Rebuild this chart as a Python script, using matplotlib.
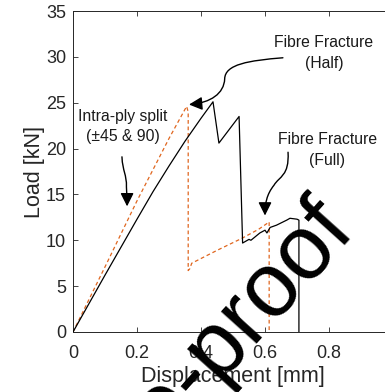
import matplotlib
matplotlib.use("Agg")
import matplotlib.pyplot as plt
from matplotlib.patches import FancyArrowPatch
from matplotlib.path import Path

plt.rcParams['font.family'] = ['Liberation Sans', 'DejaVu Sans']

# ---- data ----
black_x = [0, 0.10, 0.20, 0.25, 0.30, 0.35, 0.40, 0.4375, 0.456, 0.519, 0.530,
           0.550, 0.556, 0.584, 0.600, 0.606, 0.616, 0.636, 0.668, 0.678, 0.700, 0.706, 0.706]
black_y = [0, 6.2, 12.3, 15.3, 18.1, 20.8, 23.3, 25.1, 20.6, 23.5, 9.7,
           10.1, 10.0, 10.8, 11.1, 10.8, 11.4, 11.65, 12.2, 12.4, 12.3, 12.2, 0]

orange_x = [0, 0.10, 0.20, 0.30, 0.355, 0.360, 0.360, 0.365, 0.371, 0.45, 0.527, 0.58, 0.605, 0.613, 0.613]
orange_y = [0, 7.1, 14.3, 21.1, 24.6, 24.0, 6.7, 6.9, 7.5, 8.9, 10.2, 11.2, 11.8, 12.0, 0]

x_ticks = [0, 0.2, 0.4, 0.6, 0.8]
x_tick_labels = ['0', '0.2', '0.4', '0.6', '0.8']
y_ticks = [0, 5, 10, 15, 20, 25, 30, 35]
x_label = "Displacement [mm]"
y_label = "Load [kN]"

W, H = 385, 392
fig = plt.figure(figsize=(W / 100, H / 100), dpi=100)
ax = fig.add_axes([73 / W, 1 - 332 / H, 320 / W, 321 / H])

ax.plot(black_x, black_y, color='black', lw=0.9, zorder=3)
ax.plot(orange_x, orange_y, color='#E0661F', lw=0.9, ls=(0, (3, 2.2)), zorder=2)

ax.set_xlim(0, 1.0)
ax.set_ylim(0, 35)
ax.set_xticks(x_ticks)
ax.set_xticklabels(x_tick_labels)
ax.set_yticks(y_ticks)
tc = '#262626'
ax.tick_params(direction='in', length=3.5, width=0.6, top=True, right=True,
               labelsize=13, colors=tc, pad=5)
ax.tick_params(axis='x', pad=9)
for s in ax.spines.values():
    s.set_color(tc)
    s.set_linewidth(0.7)
ax.set_xlabel(x_label, fontsize=15.5, color=tc, labelpad=3)
ax.set_ylabel(y_label, fontsize=15.5, color=tc, labelpad=1)

# ---- annotations ----
afs = 11.3
tcol = '#1a1a1a'
ax.text(0.155, 22.4, "Intra-ply split\n(±45 & 90)", ha='center', va='center',
        fontsize=afs, color=tcol, linespacing=1.4)
ax.text(0.784, 30.4, "Fibre Fracture\n(Half)", ha='center', va='center',
        fontsize=afs, color=tcol, linespacing=1.5)
ax.text(0.795, 19.85, "Fibre Fracture\n(Full)", ha='center', va='center',
        fontsize=afs, color=tcol, linespacing=1.5)

def curvy_arrow(verts):
    codes = [Path.MOVETO] + [Path.CURVE4] * (len(verts) - 1)
    p = Path(verts, codes)
    a = FancyArrowPatch(path=p, arrowstyle='-|>,head_length=8,head_width=4',
                        color='black', lw=1.0, transform=ax.transData,
                        shrinkA=0, shrinkB=0, zorder=5)
    ax.add_patch(a)

curvy_arrow([(0.153, 19.1), (0.155, 17.5), (0.168, 17.2), (0.167, 15.8),
             (0.168, 15.0), (0.169, 14.4), (0.169, 13.7)])
curvy_arrow([(0.656, 29.9), (0.55, 29.6), (0.475, 29.2), (0.474, 27.6),
             (0.472, 26.0), (0.43, 25.0), (0.3625, 24.8)])
curvy_arrow([(0.672, 19.6), (0.676, 17.0), (0.645, 17.0), (0.628, 16.0),
             (0.605, 15.0), (0.600, 14.0), (0.600, 12.7)])

# ---- watermark ----
fig.text(0.927, 0.406, "Journal Pre-proof", fontsize=65, color='black',
         rotation=48, rotation_mode='anchor', ha='right', va='baseline', zorder=10)

fig.savefig("out.png", dpi=100)
